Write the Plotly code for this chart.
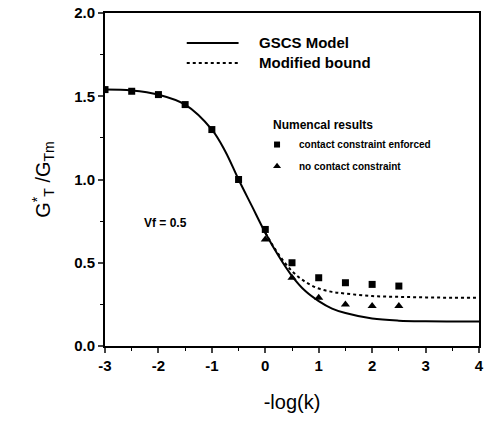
import plotly.graph_objects as go

# GSCS model curve
gscs_x = [-3, -2.5, -2, -1.5, -1, -0.75, -0.5, -0.25, 0, 0.25, 0.5, 0.75, 1, 1.25, 1.5, 2, 2.5, 3, 3.5, 4]
gscs_y = [1.54, 1.535, 1.51, 1.45, 1.30, 1.17, 1.00, 0.84, 0.68, 0.54, 0.42, 0.33, 0.27, 0.225, 0.198, 0.165, 0.152, 0.148, 0.147, 0.147]

# Modified bound (dotted)
bound_x = [0, 0.25, 0.5, 0.75, 1, 1.25, 1.5, 2, 2.5, 3, 3.5, 4]
bound_y = [0.68, 0.55, 0.45, 0.385, 0.345, 0.325, 0.315, 0.30, 0.295, 0.292, 0.29, 0.29]

# Numerical results
contact_x = [-3, -2.5, -2, -1.5, -1, -0.5, 0, 0.5, 1, 1.5, 2, 2.5]
contact_y = [1.54, 1.53, 1.51, 1.45, 1.30, 1.00, 0.70, 0.50, 0.41, 0.38, 0.37, 0.36]
nocontact_x = [0, 0.5, 1, 1.5, 2, 2.5]
nocontact_y = [0.64, 0.41, 0.29, 0.25, 0.24, 0.24]

x_ticks = [-3, -2, -1, 0, 1, 2, 3, 4]
y_ticks = [0.0, 0.5, 1.0, 1.5, 2.0]

FONT = "Liberation Sans, Arial, sans-serif"

fig = go.Figure()
fig.add_trace(go.Scatter(x=gscs_x, y=gscs_y, mode="lines", line=dict(color="black", width=2, shape="spline"), showlegend=False))
fig.add_trace(go.Scatter(x=bound_x, y=bound_y, mode="lines", line=dict(color="black", width=2, dash="dot", shape="spline"), showlegend=False))
fig.add_trace(go.Scatter(x=contact_x, y=contact_y, mode="markers", marker=dict(symbol="square", size=7, color="black"), showlegend=False))
fig.add_trace(go.Scatter(x=nocontact_x, y=nocontact_y, mode="markers", marker=dict(symbol="triangle-up", size=8, color="black"), showlegend=False))

# legend drawn in data space
fig.add_trace(go.Scatter(x=[-1.47, -0.5], y=[1.82, 1.82], mode="lines", line=dict(color="black", width=2), showlegend=False, hoverinfo="skip"))
fig.add_trace(go.Scatter(x=[-1.47, -0.5], y=[1.70, 1.70], mode="lines", line=dict(color="black", width=2, dash="dot"), showlegend=False, hoverinfo="skip"))
fig.add_trace(go.Scatter(x=[0.22], y=[1.21], mode="markers", marker=dict(symbol="square", size=6, color="black"), showlegend=False, hoverinfo="skip"))
fig.add_trace(go.Scatter(x=[0.22], y=[1.08], mode="markers", marker=dict(symbol="triangle-up", size=7, color="black"), showlegend=False, hoverinfo="skip"))

annots = [
    dict(x=-0.15, y=1.82, text="GSCS Model", size=15),
    dict(x=-0.15, y=1.70, text="Modified bound", size=15),
    dict(x=0.1, y=1.33, text="Numencal results", size=12),
    dict(x=0.6, y=1.21, text="contact constraint enforced", size=10),
    dict(x=0.6, y=1.08, text="no contact constraint", size=10),
    dict(x=-2.3, y=0.74, text="Vf = 0.5", size=12),
]
for a in annots:
    fig.add_annotation(x=a["x"], y=a["y"], text=a["text"], showarrow=False, xanchor="left", yanchor="middle",
                       font=dict(family=FONT, size=a["size"], color="black", weight="bold"))

fig.update_layout(
    width=487, height=426,
    margin=dict(l=105, r=3, t=13, b=80),
    paper_bgcolor="white", plot_bgcolor="white",
    font=dict(family=FONT, color="black"),
    xaxis=dict(range=[-3, 4], tickvals=x_ticks, ticktext=[str(v) for v in x_ticks],
               ticks="outside", ticklen=5, tickwidth=2, showline=True, linewidth=2, linecolor="black",
               mirror=True, showgrid=False, zeroline=False, tickfont=dict(size=15, family=FONT, weight="bold"),
               minor=dict(dtick=0.5, ticks="outside", ticklen=3, tickwidth=1, tickcolor="black"),
               title=dict(text="-log(k)", font=dict(size=20, family=FONT), standoff=22)),
    yaxis=dict(range=[0, 2], tickvals=y_ticks, ticktext=["0.0", "0.5", "1.0", "1.5", "2.0"],
               ticks="outside", ticklen=5, tickwidth=2, showline=True, linewidth=2, linecolor="black",
               mirror=True, showgrid=False, zeroline=False, tickfont=dict(size=15, family=FONT, weight="bold"),
               minor=dict(dtick=0.25, ticks="outside", ticklen=3, tickwidth=1, tickcolor="black"),
               title=dict(text="G<sup>*</sup><sub>T</sub> /G<sub>Tm</sub>", font=dict(size=20, family=FONT), standoff=18)),
)

fig.write_html("out.html")
